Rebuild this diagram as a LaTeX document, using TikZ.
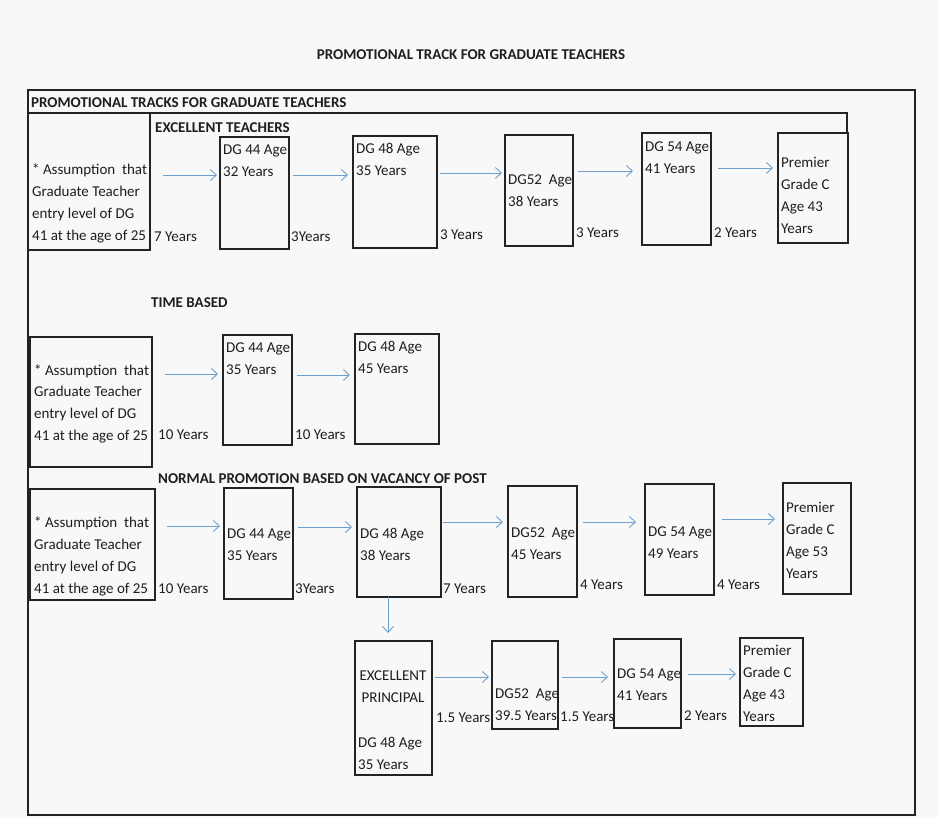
\documentclass[tikz,border=0pt]{standalone}
\usepackage{fontspec}
\setmainfont{Carlito}
\usetikzlibrary{arrows.meta}
\definecolor{ink}{RGB}{30,30,30}
\definecolor{frame}{RGB}{35,35,35}
\definecolor{arrowblue}{RGB}{110,160,205}
\definecolor{paper}{RGB}{247,248,247}
\tikzset{
  box/.style={draw=frame, line width=1.4pt, inner sep=0pt, outer sep=0pt},
  thickbox/.style={box, line width=2.3pt},
  txt/.style={font=\fontsize{15}{22}\selectfont, text=ink, inner sep=0pt, align=left, anchor=base west},
  ctxt/.style={txt, align=center, anchor=base},
  head/.style={font=\fontsize{15}{22}\selectfont\bfseries, text=ink, inner sep=0pt, anchor=base west},
  arr/.style={draw=arrowblue, line width=0.9pt, -{Straight Barb[length=6pt,width=11pt]}}
}
\begin{document}
\begin{tikzpicture}[x=1pt,y=-1pt]
\fill[paper] (0,0) rectangle (938,818);
\useasboundingbox (0,0) rectangle (938,818);

% title
\node[head, anchor=base] (title) at (471,60) {PROMOTIONAL TRACK FOR GRADUATE TEACHERS};

% outer frame and header
\node[box, line width=2pt, anchor=north west, minimum width=887, minimum height=725] (frameall) at (28,90) {};
\draw[frame, line width=1.8pt] (28,113) -- (847,113) -- (847,133);
\node[head] (hdr) at (31,108) {PROMOTIONAL TRACKS FOR GRADUATE TEACHERS};

% (multi-line text nodes are placed by the baseline of their last line)
% ---------------- Row 1: Excellent teachers
\node[head] (sec1) at (155,133) {EXCELLENT TEACHERS};
\node[box, line width=1.9pt, anchor=north west, minimum width=122, minimum height=137] (A1) at (28,113) {};
\node[txt] (A1t) at (32,241) {* Assumption\ \ that\\Graduate Teacher\\entry level of DG\\41 at the age of 25};
\node[box, anchor=north west, minimum width=69, minimum height=112] (B12) at (220,137) {};
\node[txt] (B12t) at (223,177) {DG 44 Age\\32 Years};
\node[box, anchor=north west, minimum width=84, minimum height=112] (B13) at (353,136) {};
\node[txt] (B13t) at (356,176) {DG 48 Age\\35 Years};
\node[box, anchor=north west, minimum width=68, minimum height=111] (B14) at (505,135) {};
\node[txt] (B14t) at (508,207) {DG52\ \ Age\\38 Years};
\node[box, anchor=north west, minimum width=69, minimum height=112] (B15) at (642,133) {};
\node[txt] (B15t) at (645,174) {DG 54 Age\\41 Years};
\node[box, anchor=north west, minimum width=70, minimum height=110] (B16) at (778,133) {};
\node[txt] (B16t) at (781,234) {Premier\\Grade C\\Age 43\\Years};
\node[txt] (y11) at (154,242) {7 Years};
\node[txt] (y12) at (291,242) {3Years};
\node[txt] (y13) at (440,240) {3 Years};
\node[txt] (y14) at (576,238) {3 Years};
\node[txt] (y15) at (714,238) {2 Years};
\draw[arr] ([xshift=13pt]A1.east |- 0,175) -- ([xshift=-3pt]B12.west |- 0,175);
\draw[arr] ([xshift=4pt]B12.east |- 0,175) -- ([xshift=-5pt]B13.west |- 0,175);
\draw[arr] ([xshift=3pt]B13.east |- 0,173) -- ([xshift=-3pt]B14.west |- 0,173);
\draw[arr] ([xshift=5pt]B14.east |- 0,171) -- ([xshift=-9pt]B15.west |- 0,171);
\draw[arr] ([xshift=7pt]B15.east |- 0,168) -- ([xshift=-5pt]B16.west |- 0,168);

% ---------------- Row 2: Time based
\node[head] (sec2) at (151,308) {TIME BASED};
\node[box, line width=1.9pt, anchor=north west, minimum width=122, minimum height=130] (A2) at (30,337) {};
\node[txt] (A2t) at (34,441) {* Assumption\ \ that\\Graduate Teacher\\entry level of DG\\41 at the age of 25};
\node[box, anchor=north west, minimum width=69, minimum height=110] (B22) at (223,335) {};
\node[txt] (B22t) at (226,375) {DG 44 Age\\35 Years};
\node[box, anchor=north west, minimum width=84, minimum height=110] (B23) at (355,334) {};
\node[txt] (B23t) at (358,374) {DG 48 Age\\45 Years};
\node[txt] (y21) at (158,440) {10 Years};
\node[txt] (y22) at (295,440) {10 Years};
\draw[arr] ([xshift=13pt]A2.east |- 0,374) -- ([xshift=-5pt]B22.west |- 0,374);
\draw[arr] ([xshift=5pt]B22.east |- 0,375) -- ([xshift=-5pt]B23.west |- 0,375);

% ---------------- Row 3: Normal promotion
\node[head] (sec3) at (158,484) {NORMAL PROMOTION BASED ON VACANCY OF POST};
\node[box, line width=1.9pt, anchor=north west, minimum width=125, minimum height=111] (A3) at (30,489) {};
\node[txt] (A3t) at (34,593) {* Assumption\ \ that\\Graduate Teacher\\entry level of DG\\41 at the age of 25};
\node[box, anchor=north west, minimum width=69, minimum height=111] (B32) at (224,488) {};
\node[txt] (B32t) at (227,560) {DG 44 Age\\35 Years};
\node[box, anchor=north west, minimum width=84, minimum height=110] (B33) at (357,487) {};
\node[txt] (B33t) at (360,560) {DG 48 Age\\38 Years};
\node[box, anchor=north west, minimum width=69, minimum height=111] (B34) at (508,486) {};
\node[txt] (B34t) at (511,559) {DG52\ \ Age\\45 Years};
\node[box, anchor=north west, minimum width=69, minimum height=111] (B35) at (645,484) {};
\node[txt] (B35t) at (648,558) {DG 54 Age\\49 Years};
\node[box, anchor=north west, minimum width=68, minimum height=111] (B36) at (783,483) {};
\node[txt] (B36t) at (786,578) {Premier\\Grade C\\Age 53\\Years};
\node[txt] (y31) at (158,593) {10 Years};
\node[txt] (y32) at (295,593) {3Years};
\node[txt] (y33) at (443,593) {7 Years};
\node[txt] (y34) at (580,589) {4 Years};
\node[txt] (y35) at (717,589) {4 Years};
\draw[arr] ([xshift=12pt]A3.east |- 0,526) -- ([xshift=-4pt]B32.west |- 0,526);
\draw[arr] ([xshift=5pt]B32.east |- 0,527) -- ([xshift=-5pt]B33.west |- 0,527);
\draw[arr] ([xshift=2pt]B33.east |- 0,522) -- ([xshift=-5pt]B34.west |- 0,522);
\draw[arr] ([xshift=6pt]B34.east |- 0,522) -- ([xshift=-9pt]B35.west |- 0,522);
\draw[arr] ([xshift=8pt]B35.east |- 0,519) -- ([xshift=-8pt]B36.west |- 0,519);

% ---------------- Row 4: Excellent principal
\node[thickbox, anchor=north west, minimum width=77, minimum height=134] (C41) at (355,641) {};
\node[ctxt] (C41a) at (393,702) {EXCELLENT\\PRINCIPAL};
\node[txt] (C41b) at (358,769) {DG 48 Age\\35 Years};
\node[thickbox, anchor=north west, minimum width=66, minimum height=88] (C42) at (492,641) {};
\node[txt] (C42t) at (495,720) {DG52\ \ Age\\39.5 Years};
\node[thickbox, anchor=north west, minimum width=67, minimum height=89] (C43) at (614,639) {};
\node[txt] (C43t) at (617,700) {DG 54 Age\\41 Years};
\node[thickbox, anchor=north west, minimum width=63, minimum height=88] (C44) at (740,638) {};
\node[txt] (C44t) at (743,721) {Premier\\Grade C\\Age 43\\Years};
\node[txt] (y41) at (436,722) {1.5 Years};
\node[txt] (y42) at (560,721) {1.5 Years};
\node[txt] (y43) at (684,720) {2 Years};
\draw[arr] ([xshift=-11pt]B33.south) -- ([xshift=-11pt,yshift=8pt]B33.south |- C41.north);
\draw[arr] ([xshift=3pt]C41.east |- 0,677) -- ([xshift=-3pt]C42.west |- 0,677);
\draw[arr] ([xshift=4pt]C42.east |- 0,677) -- ([xshift=-6pt]C43.west |- 0,677);
\draw[arr] ([xshift=7pt]C43.east |- 0,674) -- ([xshift=-4pt]C44.west |- 0,674);
\end{tikzpicture}
\end{document}
